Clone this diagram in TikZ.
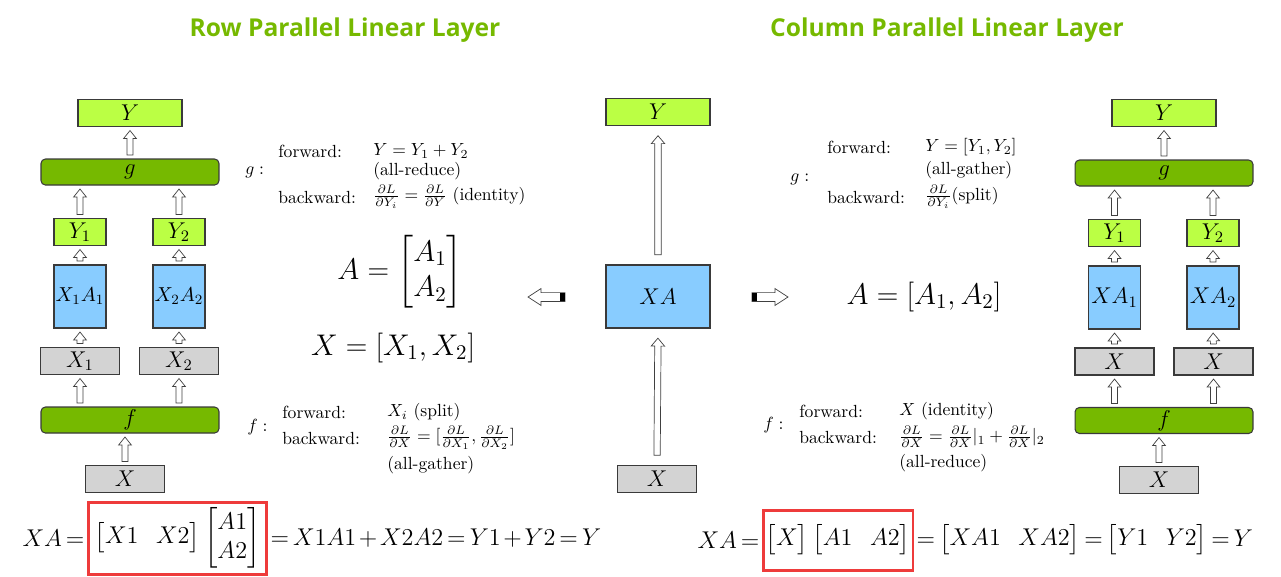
\RequirePackage{fix-cm}
\documentclass[tikz,border=0pt]{standalone}
\usepackage{amsmath}
\usepackage{fontspec}
\usepackage{tikz}
\usetikzlibrary{calc,positioning}
\newfontfamily\titlefont{Open Sans}
\definecolor{nvgreen}{HTML}{76B900}
\definecolor{outgreen}{HTML}{BBFF44}
\definecolor{matblue}{HTML}{88CCFF}
\definecolor{ingray}{HTML}{D3D3D3}
\definecolor{edge}{HTML}{3A3A3A}
\definecolor{redmark}{HTML}{EE3B3B}
\newcommand\tightmath{\thickmuskip=3mu\relax\medmuskip=2mu\relax}

\begin{document}
\begin{tikzpicture}[x=0.02cm, y=-0.02cm,
  node distance=0pt,
  box/.style={draw=edge, line width=0.6pt, inner sep=0pt, font=\fontsize{13}{15}\selectfont},
  outbox/.style={box, fill=outgreen, minimum width=2.08cm, minimum height=0.54cm},
  sbox/.style={box, fill=outgreen, minimum width=1.04cm, minimum height=0.54cm},
  bar/.style={box, fill=nvgreen, rounded corners=2.5pt, minimum width=3.56cm, minimum height=0.52cm},
  wbox/.style={box, fill=matblue, minimum width=1.04cm, minimum height=1.26cm},
  ibox/.style={box, fill=ingray, minimum width=1.58cm, minimum height=0.54cm},
  txt/.style={anchor=west, inner sep=0pt},
  title/.style={font=\titlefont\bfseries\fontsize{14}{16}\selectfont, text=nvgreen},
  big/.style={font=\fontsize{17}{20}\selectfont},
  eq/.style={font=\fontsize{13.8}{17}\selectfont\tightmath, inner sep=1pt},
  redbox/.style={eq, draw=redmark, line width=1.7pt},
  harrow/.style n args={4}{draw=black!75, fill=white, line width=0.4pt, to path={
    ($(\tikztostart)!#4!(\tikztotarget)!#1!90:(\tikztotarget)$) --
    ($(\tikztotarget)!#3!(\tikztostart)!#1!-90:(\tikztostart)$) --
    ($(\tikztotarget)!#3!(\tikztostart)!#2!-90:(\tikztostart)$) --
    ($(\tikztotarget)!#4!(\tikztostart)$) --
    ($(\tikztotarget)!#3!(\tikztostart)!#2!90:(\tikztostart)$) --
    ($(\tikztotarget)!#3!(\tikztostart)!#1!90:(\tikztostart)$) --
    ($(\tikztostart)!#4!(\tikztotarget)!#1!-90:(\tikztotarget)$) -- cycle}},
  hollow/.style={harrow={1.7pt}{3.6pt}{6.5pt}{2pt}},
  midhollow/.style={harrow={1.8pt}{3.8pt}{10pt}{5.5pt}},
  side/.style={harrow={2.5pt}{4.8pt}{7.4pt}{0pt}}
]
  \useasboundingbox (0,0) rectangle (1281,576);

  % Titles
  \node[title] (rowtitle) at (345,30) {Row Parallel Linear Layer};
  \node[title] (coltitle) at (947,30) {Column Parallel Linear Layer};

  % Row parallel: boxes
  \node[outbox] (yl) at (130,113) {$Y$};
  \node[bar] (gl) at (130,172) {$g$};
  \node[sbox] (y1l) at (80,232) {$Y_1$};
  \node[sbox] (y2l) at (179,232) {$Y_2$};
  \node[wbox, font=\fontsize{11.5}{14}\selectfont] (x1a1) at (80,296.5) {$X_1A_1$};
  \node[wbox, font=\fontsize{11.5}{14}\selectfont] (x2a2) at (179,296.5) {$X_2A_2$};
  \node[ibox] (x1l) at (80,361) {$X_1$};
  \node[ibox] (x2l) at (179,361) {$X_2$};
  \node[bar] (fl) at (130,420) {$f$};
  \node[ibox] (xl) at (125,479) {$X$};

  % Row parallel: arrows
  \draw[hollow] (xl.north) to (xl.north |- fl.south);
  \draw[hollow] (x1l.south |- fl.north) to (x1l.south);
  \draw[hollow] (x2l.south |- fl.north) to (x2l.south);
  \draw[hollow] (x1l.north) to (x1a1.south);
  \draw[hollow] (x2l.north) to (x2a2.south);
  \draw[hollow] (x1a1.north) to (y1l.south);
  \draw[hollow] (x2a2.north) to (y2l.south);
  \draw[hollow] (y1l.north) to (y1l.north |- gl.south);
  \draw[hollow] (y2l.north) to (y2l.north |- gl.south);
  \draw[hollow] (gl.north) to (yl.south);

  % Row parallel: g and f
  \node[txt] (gname) at (245,172) {$g:$};
  \node[txt] (gfwd) at (278,151) {forward:};
  \node[txt] (gfwdeq) at (373,151) {$Y=Y_1+Y_2$};
  \node[txt] (gfwdop) at (373,171) {(all-reduce)};
  \node[txt] (gbwd) at (278,197) {backward:};
  \node[txt] (gbwdeq) at (373,197) {$\frac{\partial L}{\partial Y_i}=\frac{\partial L}{\partial Y}$ (identity)};
  \node[txt] (fname) at (247,427) {$f:$};
  \node[txt] (ffwd) at (282,412) {forward:};
  \node[txt] (ffwdeq) at (387,412) {$X_i$ (split)};
  \node[txt] (fbwd) at (282,438) {backward:};
  \node[txt] (fbwdeq) at (387,438) {$\frac{\partial L}{\partial X}=[\frac{\partial L}{\partial X_1},\frac{\partial L}{\partial X_2}]$};
  \node[txt] (fbwdop) at (387,465) {(all-gather)};

  % Split of A and X
  \node[big] (asplit) at (400,272) {$A=\begin{bmatrix}A_1\\A_2\end{bmatrix}$};
  \node[big] (xsplit) at (393,348) {$X=[X_1,X_2]$};
  \node[big] (acsplit) at (924,297) {$A=[A_1,A_2]$};

  % Middle: the full layer
  \node[outbox] (my) at (658,112) {$Y$};
  \node[wbox, minimum width=2.08cm] (mxa) at (658,296.5) {$XA$};
  \node[ibox] (mx) at (657,479) {$X$};
  \draw[midhollow] (mx.north) to (mxa.south);
  \draw[midhollow] (mxa.north) to (my.south);
  \coordinate (ltail) at (565,297);
  \coordinate (ltip) at (528,297);
  \coordinate (rtail) at (752,297);
  \coordinate (rtip) at (788,297);
  \draw[side] (ltail) to (ltip);
  \draw[side] (rtail) to (rtip);
  \draw[line width=5pt] (ltail) -- ($(ltail)!2.8pt!(ltip)$);
  \draw[line width=5pt] (rtail) -- ($(rtail)!2.8pt!(rtip)$);

  % Column parallel: g and f
  \node[txt] (cgname) at (790,179) {$g:$};
  \node[txt] (cgfwd) at (827,147) {forward:};
  \node[txt] (cgfwdeq) at (925,147) {$Y=[Y_1,Y_2]$};
  \node[txt] (cgfwdop) at (925,170) {(all-gather)};
  \node[txt] (cgbwd) at (827,197) {backward:};
  \node[txt] (cgbwdeq) at (925,197) {$\frac{\partial L}{\partial Y_i}$(split)};
  \node[txt] (cfname) at (763,425) {$f:$};
  \node[txt] (cffwd) at (799,411) {forward:};
  \node[txt] (cffwdeq) at (899,411) {$X$ (identity)};
  \node[txt] (cfbwd) at (799,437) {backward:};
  \node[txt] (cfbwdeq) at (899,437) {$\frac{\partial L}{\partial X}=\frac{\partial L}{\partial X}|_1+\frac{\partial L}{\partial X}|_2$};
  \node[txt] (cfbwdop) at (899,463) {(all-reduce)};

  % Column parallel: boxes
  \node[outbox] (yr) at (1164,113) {$Y$};
  \node[bar] (gr) at (1164,173) {$g$};
  \node[sbox] (y1r) at (1114.5,233) {$Y_1$};
  \node[sbox] (y2r) at (1213,233) {$Y_2$};
  \node[wbox] (xa1) at (1114.5,297.5) {$XA_1$};
  \node[wbox] (xa2) at (1213,297.5) {$XA_2$};
  \node[ibox] (x1r) at (1114.5,361.5) {$X$};
  \node[ibox] (x2r) at (1213.5,361.5) {$X$};
  \node[bar] (fr) at (1164,420.5) {$f$};
  \node[ibox] (xr) at (1159,480) {$X$};

  % Column parallel: arrows
  \draw[hollow] (xr.north) to (xr.north |- fr.south);
  \draw[hollow] (x1r.south |- fr.north) to (x1r.south);
  \draw[hollow] (x2r.south |- fr.north) to (x2r.south);
  \draw[hollow] (x1r.north) to (xa1.south);
  \draw[hollow] (x2r.north) to (xa2.south);
  \draw[hollow] (xa1.north) to (y1r.south);
  \draw[hollow] (xa2.north) to (y2r.south);
  \draw[hollow] (y1r.north) to (y1r.north |- gr.south);
  \draw[hollow] (y2r.north) to (y2r.north |- gr.south);
  \draw[hollow] (gr.north) to (yr.south);

  % Bottom equations
  \node[redbox, minimum width=3.58cm, minimum height=1.44cm] (lmat) at (177.5,538)
    {$\begin{bmatrix}X1 & X2\end{bmatrix}\begin{bmatrix}A1\\A2\end{bmatrix}$};
  \node[eq, left=0pt of lmat] (lhs) {$XA=$};
  \node[eq, right=0pt of lmat] (lrhs) {$=X1A1+X2A2=Y1+Y2=Y$};
  \node[redbox, minimum width=3cm, minimum height=1.2cm] (rmat) at (838,540)
    {$\begin{bmatrix}X\end{bmatrix}\begin{bmatrix}A1 & A2\end{bmatrix}$};
  \node[eq, left=0pt of rmat] (rlhs) {$XA=$};
  \node[eq, right=0pt of rmat] (rrhs) {$=\begin{bmatrix}XA1 & XA2\end{bmatrix}=\begin{bmatrix}Y1 & Y2\end{bmatrix}=Y$};
\end{tikzpicture}
\end{document}
